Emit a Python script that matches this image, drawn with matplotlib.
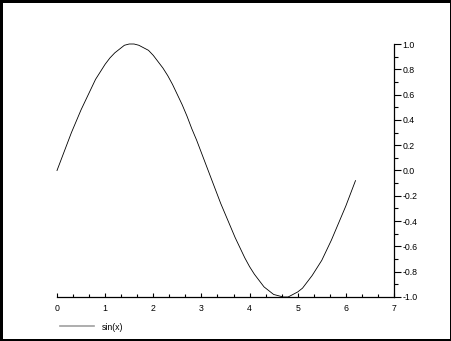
import matplotlib
matplotlib.use("Agg")
import matplotlib.pyplot as plt
from matplotlib.lines import Line2D
from matplotlib.ticker import MultipleLocator, FormatStrFormatter

# sin(x) sampled every 0.1 from the picture
x = [0.0, 0.1, 0.2, 0.3, 0.4, 0.5, 0.6, 0.7, 0.8, 0.9,
     1.0, 1.1, 1.2, 1.3, 1.4, 1.5, 1.6, 1.7, 1.8, 1.9,
     2.0, 2.1, 2.2, 2.3, 2.4, 2.5, 2.6, 2.7, 2.8, 2.9,
     3.0, 3.1, 3.2, 3.3, 3.4, 3.5, 3.6, 3.7, 3.8, 3.9,
     4.0, 4.1, 4.2, 4.3, 4.4, 4.5, 4.6, 4.7, 4.8, 4.9,
     5.0, 5.1, 5.2, 5.3, 5.4, 5.5, 5.6, 5.7, 5.8, 5.9,
     6.0, 6.1, 6.2]
y = [0.00, 0.10, 0.20, 0.30, 0.39, 0.48, 0.56, 0.64, 0.72, 0.78,
     0.84, 0.89, 0.93, 0.96, 0.99, 1.00, 1.00, 0.99, 0.97, 0.95,
     0.91, 0.86, 0.81, 0.75, 0.68, 0.60, 0.52, 0.43, 0.33, 0.24,
     0.14, 0.04, -0.06, -0.16, -0.26, -0.35, -0.44, -0.53, -0.61, -0.69,
     -0.76, -0.82, -0.87, -0.92, -0.95, -0.98, -0.99, -1.00, -1.00, -0.98,
     -0.96, -0.93, -0.88, -0.83, -0.77, -0.71, -0.63, -0.55, -0.46, -0.37,
     -0.28, -0.18, -0.08]
series_name = "sin(x)"

plt.rcParams["font.family"] = ["Liberation Sans", "DejaVu Sans"]
plt.rcParams["axes.unicode_minus"] = False

fig = plt.figure(figsize=(4.52, 3.41), dpi=100, facecolor="white",
                 edgecolor="black", linewidth=2.5)
ax = fig.add_axes([57/452, 1 - 297/341, (394 - 57)/452, (297 - 44)/341])

ax.plot(x, y, color="black", linewidth=0.6, clip_on=False)

ax.set_xlim(0, 7)
ax.set_ylim(-1, 1)
ax.spines["top"].set_visible(False)
ax.spines["left"].set_visible(False)
ax.spines["bottom"].set_linewidth(0.9)
ax.spines["right"].set_linewidth(0.9)

ax.xaxis.set_major_locator(MultipleLocator(1))
ax.xaxis.set_minor_locator(MultipleLocator(1/3))
ax.yaxis.set_major_locator(MultipleLocator(0.2))
ax.yaxis.set_minor_locator(MultipleLocator(0.1))
ax.yaxis.set_major_formatter(FormatStrFormatter("%.1f"))
ax.yaxis.tick_right()

ax.tick_params(axis="x", which="major", direction="in", length=3, width=0.8,
               labelsize=6.3, pad=5)
ax.tick_params(axis="x", which="minor", direction="in", length=2, width=0.8)
ax.tick_params(axis="y", which="major", direction="out", length=5, width=0.8,
               labelsize=6.3, pad=1)
ax.tick_params(axis="y", which="minor", direction="out", length=3, width=0.8)

handle = Line2D([], [], color="#a0a0a0", linewidth=1.2)
fig.legend([handle], [series_name], loc="center left",
           bbox_to_anchor=(52/452, 1 - 327/341), frameon=False,
           fontsize=6.3, handlelength=3.9, handletextpad=0.9)

fig.savefig("out.png", dpi=100)
